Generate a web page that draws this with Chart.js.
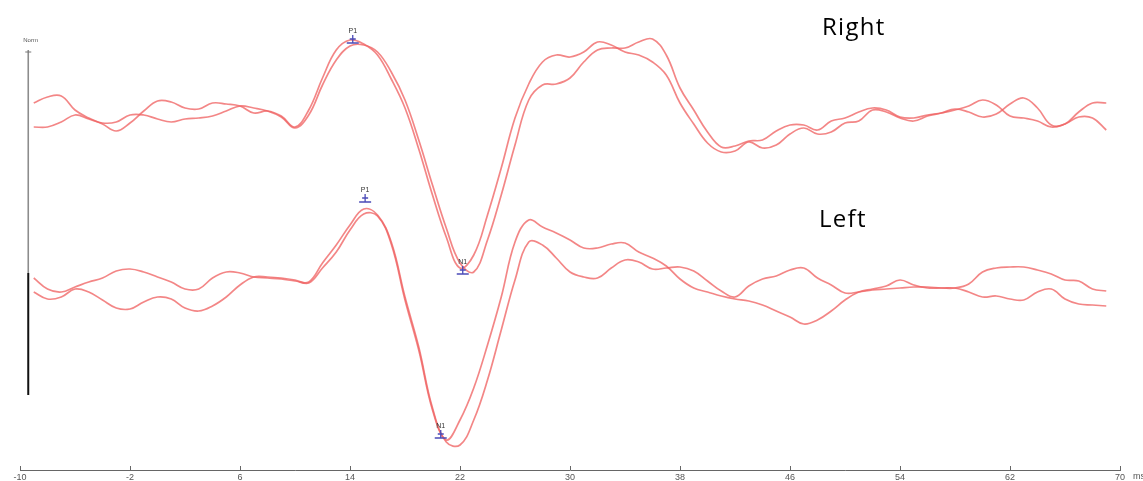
<!DOCTYPE html>
<html>
<head>
<meta charset="utf-8">
<script src="https://cdn.jsdelivr.net/npm/chart.js@4.4.1/dist/chart.umd.min.js"></script>
<style>
  html, body { margin: 0; padding: 0; background: #fff; }
  #wrap { width: 1143px; height: 481px; }
</style>
</head>
<body>
<div id="wrap"><canvas id="chart" width="1143" height="481"></canvas></div>
<script>
// latency in ms
const times = [
  -9, -8, -7, -6, -5, -4, -3, -2, -1, 0,
  1, 2, 3, 4, 5, 6, 7, 8, 9, 10,
  11, 12, 13, 14, 15, 16, 17, 18, 19, 20,
  21, 22, 23, 24, 25, 26, 27, 28, 29, 30,
  31, 32, 33, 34, 35, 36, 37, 38, 39, 40,
  41, 42, 43, 44, 45, 46, 47, 48, 49, 50,
  51, 52, 53, 54, 55, 56, 57, 58, 59, 60,
  61, 62, 63, 64, 65, 66, 67, 68, 69
];

// right eye, two runs
const rightRun1 = [
  1.2, 1.8, 1.9, 0.5, -0.3, -0.9, -1.6, -0.8, 0.4, 1.4,
  1.3, 0.7, 0.6, 1.2, 1.1, 0.9, 0.2, 0.4, -0.1, -1.2,
  0.5, 3.7, 6.5, 7.5, 7.1, 6.0, 3.6, 0.7, -3.4, -8.0,
  -12.2, -15.3, -14.0, -10.0, -5.3, -0.3, 3.1, 5.3, 6.0, 5.8,
  6.3, 7.3, 7.0, 6.3, 6.0, 5.3, 4.0, 1.2, -0.9, -2.8,
  -3.7, -3.6, -2.7, -3.3, -3.0, -1.9, -1.3, -1.9, -1.7, -0.8,
  -0.6, 0.5, 0.3, -0.3, -0.6, -0.1, 0.2, 0.6, 0.3, -0.2,
  0.1, 1.1, 1.7, 0.7, -1.0, -0.9, 0.3, 1.2, 1.2
];
const rightRun2 = [
  -1.2, -1.2, -0.7, 0.0, -0.4, -0.8, -0.7, 0.0, 0.0, -0.4,
  -0.7, -0.4, -0.3, -0.1, 0.4, 0.9, 0.7, 0.4, -0.2, -1.3,
  0.0, 3.0, 5.5, 6.9, 7.0, 6.3, 4.3, 1.5, -2.5, -7.0,
  -11.3, -14.8, -15.7, -12.5, -8.0, -3.0, 1.5, 3.0, 3.1, 3.7,
  5.3, 6.5, 6.7, 6.7, 7.3, 7.6, 6.0, 2.7, 0.5, -1.7,
  -3.2, -3.1, -2.6, -2.5, -1.6, -1.0, -1.0, -1.5, -0.6, -0.3,
  0.3, 0.7, 0.5, -0.2, -0.3, 0.0, 0.2, 0.5, 0.9, 1.5,
  1.0, -0.1, -0.3, -0.6, -1.2, -0.9, -0.2, -0.3, -1.5
];

// left eye, two runs
const leftRun1 = [
  0.7, -0.4, -0.7, -0.2, 0.3, 0.7, 1.4, 1.6, 1.3, 0.8,
  0.3, -0.4, -0.4, 0.7, 1.3, 1.2, 0.8, 0.7, 0.6, 0.4,
  0.3, 2.2, 4.0, 6.0, 7.6, 7.0, 4.3, -1.2, -6.2, -12.3,
  -15.5, -13.5, -10.3, -6.0, -1.2, 4.3, 6.5, 5.8, 5.2, 4.5,
  3.7, 3.7, 4.1, 4.2, 3.3, 2.7, 1.9, 0.6, -0.3, -0.7,
  -1.1, -1.4, -1.6, -2.0, -2.6, -3.2, -3.9, -3.5, -2.6, -1.5,
  -0.7, -0.4, -0.1, 0.5, 0.0, -0.3, -0.3, -0.3, 0.1, 1.3,
  1.7, 1.8, 1.8, 1.5, 1.1, 0.5, 0.4, -0.4, -0.6
];
const leftRun2 = [
  -0.7, -1.4, -1.2, -0.4, -0.7, -1.5, -2.3, -2.4, -1.7, -1.2,
  -1.4, -2.3, -2.6, -2.1, -1.2, 0.0, 0.8, 0.8, 0.7, 0.5,
  0.2, 1.7, 3.3, 5.5, 7.1, 6.9, 4.1, -1.5, -6.5, -12.5,
  -15.7, -16.0, -13.5, -9.5, -4.5, 0.5, 4.3, 4.0, 2.7, 1.3,
  0.8, 0.7, 1.7, 2.5, 2.3, 1.6, 1.7, 1.8, 1.4, 0.4,
  -0.6, -1.2, -0.1, 0.6, 0.9, 1.5, 1.7, 0.7, 0.0, -0.8,
  -0.7, -0.5, -0.4, -0.3, -0.2, -0.2, -0.3, -0.3, -0.7, -1.2,
  -1.1, -1.4, -1.5, -0.7, -0.4, -1.4, -1.9, -2.0, -2.1
];

// baselines the two eyes are stacked on
const RIGHT_BASE = 35.5;
const LEFT_BASE = 18.5;

// peak markers
const peakNames = ["P1", "N1"];
const rightPeakTimes = [14.2, 22.2];
const rightPeakValues = [7.5, -15.6];
const leftPeakTimes = [15.1, 20.6];
const leftPeakValues = [8.6, -15.0];

const xTicks = [-10, -2, 6, 14, 22, 30, 38, 46, 54, 62, 70];

const toPoints = (vals, base) => vals.map((v, i) => ({ x: times[i], y: v + base }));

const trace = (label, vals, base) => ({
  label,
  data: toPoints(vals, base),
  borderColor: "rgba(240, 100, 100, 0.78)",
  borderWidth: 1.7,
  pointRadius: 0,
  tension: 0.4,
  fill: false,
});

const overlay = {
  id: "overlay",
  afterDraw(chart) {
    const { ctx, scales: { x, y } } = chart;
    ctx.save();

    // small tick marks standing on the time axis
    const yb = y.getPixelForValue(0);
    ctx.strokeStyle = "#666";
    ctx.lineWidth = 1;
    xTicks.forEach((t) => {
      const px = Math.round(x.getPixelForValue(t)) + 0.5;
      ctx.beginPath();
      ctx.moveTo(px, yb);
      ctx.lineTo(px, yb - 4);
      ctx.stroke();
    });
    ctx.fillStyle = "#555";
    ctx.font = '9px "Liberation Sans", Arial';
    ctx.textBaseline = "middle";
    ctx.textAlign = "left";
    ctx.fillText("ms", x.getPixelForValue(70) + 13, yb + 7);

    // amplitude bar on the left
    const ax = x.getPixelForValue(-9.4);
    ctx.strokeStyle = "#8c8c8c";
    ctx.lineWidth = 1.6;
    ctx.beginPath();
    ctx.moveTo(ax, y.getPixelForValue(42));
    ctx.lineTo(ax, y.getPixelForValue(19.7));
    ctx.stroke();
    ctx.strokeStyle = "#111";
    ctx.lineWidth = 2;
    ctx.beginPath();
    ctx.moveTo(ax, y.getPixelForValue(19.7));
    ctx.lineTo(ax, y.getPixelForValue(7.5));
    ctx.stroke();
    ctx.strokeStyle = "#777";
    ctx.lineWidth = 1;
    ctx.beginPath();
    ctx.moveTo(ax - 3, y.getPixelForValue(41.8));
    ctx.lineTo(ax + 3, y.getPixelForValue(41.8));
    ctx.stroke();
    ctx.fillStyle = "#555";
    ctx.font = '6px "Liberation Sans", Arial';
    ctx.fillText("Norm", ax - 5, y.getPixelForValue(43));

    // P1 / N1 markers
    const drawPeak = (name, t, v, base) => {
      const px = x.getPixelForValue(t);
      const py = y.getPixelForValue(v + base);
      ctx.strokeStyle = "#4b4bb8";
      ctx.lineWidth = 1.3;
      ctx.beginPath();
      ctx.moveTo(px, py - 5);
      ctx.lineTo(px, py + 3);
      ctx.moveTo(px - 3, py - 1);
      ctx.lineTo(px + 3, py - 1);
      ctx.moveTo(px - 6, py + 3);
      ctx.lineTo(px + 6, py + 3);
      ctx.stroke();
      ctx.fillStyle = "#333";
      ctx.font = '7px "Liberation Sans", Arial';
      ctx.textAlign = "center";
      ctx.fillText(name, px, py - 9);
    };
    peakNames.forEach((n, i) => {
      drawPeak(n, rightPeakTimes[i], rightPeakValues[i], RIGHT_BASE);
      drawPeak(n, leftPeakTimes[i], leftPeakValues[i], LEFT_BASE);
    });

    // eye labels
    ctx.fillStyle = "#000";
    ctx.font = '24px "Open Sans"';
    ctx.letterSpacing = "1.3px";
    ctx.textAlign = "left";
    ctx.textBaseline = "alphabetic";
    ctx.fillText("Right", 822, 35);
    ctx.fillText("Left", 819, 227);

    ctx.restore();
  },
};

new Chart(document.getElementById("chart").getContext("2d"), {
  type: "line",
  data: {
    datasets: [
      trace("Right 1", rightRun1, RIGHT_BASE),
      trace("Right 2", rightRun2, RIGHT_BASE),
      trace("Left 1", leftRun1, LEFT_BASE),
      trace("Left 2", leftRun2, LEFT_BASE),
    ],
  },
  options: {
    responsive: false,
    animation: false,
    layout: { padding: { left: 20, right: 23, top: 20, bottom: 0 } },
    plugins: { legend: { display: false }, tooltip: { enabled: false } },
    scales: {
      x: {
        type: "linear",
        min: -10,
        max: 70,
        afterBuildTicks: (s) => {
          s.ticks = xTicks.map((v) => ({ value: v }));
        },
        afterFit: (s) => {
          s.height = 11;
        },
        grid: { display: false, drawTicks: false },
        border: { display: true, color: "#666", width: 1 },
        ticks: {
          color: "#555",
          font: { size: 9, family: '"Liberation Sans", Arial' },
          padding: 2,
          maxRotation: 0,
          autoSkip: false,
        },
      },
      y: { display: false, min: 0, max: 45 },
    },
  },
  plugins: [overlay],
});
</script>
</body>
</html>
